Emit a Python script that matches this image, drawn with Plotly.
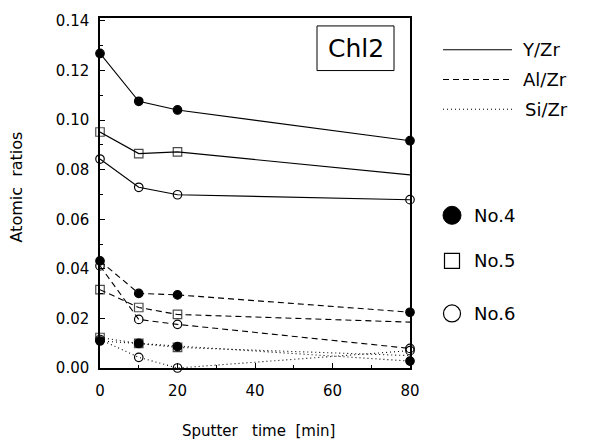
import plotly.graph_objects as go

# Sputter time (min)
sputter_time = [0, 10, 20, 80]

# Y/Zr atomic ratios
y_zr_no4 = [0.1269, 0.1076, 0.1041, 0.0917]
y_zr_no5 = [0.0952, 0.0865, 0.0872, 0.0779]
y_zr_no6 = [0.0843, 0.0729, 0.0699, 0.0679]

# Al/Zr atomic ratios
al_zr_no4 = [0.0432, 0.0301, 0.0295, 0.0225]
al_zr_no5 = [0.0316, 0.0244, 0.0216, 0.0185]
al_zr_no6 = [0.0412, 0.0196, 0.0176, 0.0079]

# Si/Zr atomic ratios
si_zr_no4 = [0.0109, 0.0099, 0.0086, 0.0028]
si_zr_no5 = [0.0123, 0.0099, 0.0083, 0.0050]
si_zr_no6 = [0.0115, 0.0043, 0.0000, 0.0070]

x_ticks = [0, 20, 40, 60, 80]
y_ticks = [0.00, 0.02, 0.04, 0.06, 0.08, 0.10, 0.12, 0.14]
y_tick_labels = [f"{v:.2f}" for v in y_ticks]

ratio_labels = ["Y/Zr", "Al/Zr", "Si/Zr"]
sample_labels = ["No.4", "No.5", "No.6"]

FONT = "DejaVu Sans"
CLEAR = "rgba(0,0,0,0)"

# figure geometry (pixels)
W, H = 590, 441
ML, MR, MT, MB = 100, 180, 15, 73
PW, PH = W - ML - MR, H - MT - MB


def px(xp):
    return (xp - ML) / PW


def py(yp):
    return (H - MB - yp) / PH


dash_of = {"Y/Zr": "solid", "Al/Zr": "6px,4px", "Si/Zr": "1px,3px"}

fig = go.Figure()


def add_series(yvals, ratio, sample, sizes=None, colors=None):
    if sample == "No.4":
        symbol, fill = "circle", "black"
    elif sample == "No.5":
        symbol, fill = "square", CLEAR
    else:
        symbol, fill = "circle", CLEAR
    fig.add_trace(go.Scatter(
        x=sputter_time, y=yvals, mode="lines+markers",
        name=f"{ratio} {sample}", showlegend=False, cliponaxis=False,
        line=dict(color="black", width=1.1, dash=dash_of[ratio]),
        marker=dict(symbol=symbol, size=sizes if sizes else 8.5,
                    color=colors if colors else fill,
                    line=dict(color="black", width=1.2)),
    ))


add_series(y_zr_no4, "Y/Zr", "No.4")
add_series(y_zr_no5, "Y/Zr", "No.5", sizes=[8.5, 8.5, 8.5, 0])
add_series(y_zr_no6, "Y/Zr", "No.6")
add_series(al_zr_no4, "Al/Zr", "No.4")
add_series(al_zr_no5, "Al/Zr", "No.5", sizes=[8.5, 8.5, 8.5, 0])
add_series(al_zr_no6, "Al/Zr", "No.6")
add_series(si_zr_no4, "Si/Zr", "No.4")
add_series(si_zr_no5, "Si/Zr", "No.5", sizes=[8.5, 8.5, 8.5, 0],
           colors=[CLEAR, "black", CLEAR, CLEAR])
add_series(si_zr_no6, "Si/Zr", "No.6")

shapes = []
annotations = []

# sample label box
shapes.append(dict(type="rect", xref="paper", yref="paper",
                   x0=px(317), x1=px(394), y0=py(68), y1=py(23),
                   line=dict(color="black", width=1)))
annotations.append(dict(text="Chl2", xref="paper", yref="paper",
                        x=px(356), y=py(46), showarrow=False,
                        xanchor="center", yanchor="middle",
                        font=dict(family=FONT, size=25, color="black")))

# line-style key
for label, yy, tx in zip(ratio_labels, [47, 77, 107], [520, 521, 523]):
    shapes.append(dict(type="line", xref="paper", yref="paper",
                       x0=px(443), x1=px(512), y0=py(yy), y1=py(yy),
                       line=dict(color="black", width=1.1,
                                 dash=dash_of[label])))
    annotations.append(dict(text=label, xref="paper", yref="paper",
                            x=px(tx), y=py(yy), showarrow=False,
                            xanchor="left", yanchor="middle",
                            font=dict(family=FONT, size=18, color="black")))

# marker key
key_y = [214, 260, 313]
xc = px(452)
shapes.append(dict(type="circle", xref="paper", yref="paper",
                   xsizemode="pixel", ysizemode="pixel",
                   xanchor=xc, yanchor=py(key_y[0]),
                   x0=-9, x1=9, y0=-9, y1=9,
                   fillcolor="black", line=dict(color="black", width=1)))
shapes.append(dict(type="rect", xref="paper", yref="paper",
                   xsizemode="pixel", ysizemode="pixel",
                   xanchor=xc, yanchor=py(key_y[1]),
                   x0=-7.5, x1=7.5, y0=-7.5, y1=7.5,
                   fillcolor=CLEAR, line=dict(color="black", width=1.2)))
shapes.append(dict(type="circle", xref="paper", yref="paper",
                   xsizemode="pixel", ysizemode="pixel",
                   xanchor=xc, yanchor=py(key_y[2]),
                   x0=-8.5, x1=8.5, y0=-8.5, y1=8.5,
                   fillcolor=CLEAR, line=dict(color="black", width=1.2)))
for label, yy in zip(sample_labels, key_y):
    annotations.append(dict(text=label, xref="paper", yref="paper",
                            x=px(472), y=py(yy), showarrow=False,
                            xanchor="left", yanchor="middle",
                            font=dict(family=FONT, size=18, color="black")))

# axis titles
annotations.append(dict(text="Sputter   time  [min]", xref="paper", yref="paper",
                        x=px(258), y=py(432), showarrow=False,
                        xanchor="center", yanchor="middle",
                        font=dict(family=FONT, size=15, color="black")))
annotations.append(dict(text="Atomic  ratios", xref="paper", yref="paper",
                        x=px(17), y=py(186), showarrow=False, textangle=-90,
                        xanchor="center", yanchor="middle",
                        font=dict(family=FONT, size=16, color="black")))

axis_common = dict(showgrid=False, zeroline=False, showline=True,
                   linecolor="black", linewidth=1.5, mirror=True,
                   ticks="inside", ticklen=5, tickwidth=1.2,
                   tickcolor="black",
                   tickfont=dict(family=FONT, size=15, color="black"))

fig.update_layout(
    width=W, height=H,
    margin=dict(l=ML, r=MR, t=MT, b=MB),
    paper_bgcolor="white", plot_bgcolor="white",
    xaxis=dict(range=[0, 80], tickvals=x_ticks, ticklabelstandoff=8,
               minor=dict(dtick=10, ticks="inside", ticklen=3,
                          tickcolor="black", tickwidth=1),
               **axis_common),
    yaxis=dict(range=[0, 0.1412], tickvals=y_ticks, ticktext=y_tick_labels,
               ticklabelstandoff=6,
               minor=dict(dtick=0.01, ticks="inside", ticklen=3,
                          tickcolor="black", tickwidth=1),
               **axis_common),
    shapes=shapes,
    annotations=annotations,
)

fig.write_html("out.html")
